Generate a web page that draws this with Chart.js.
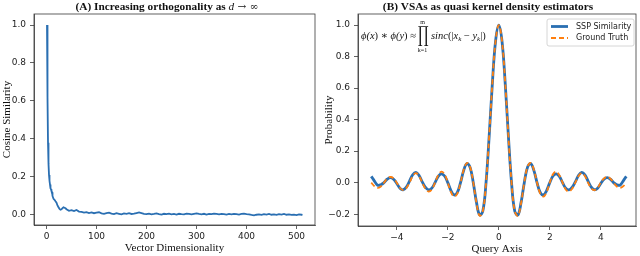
<!DOCTYPE html>
<html>
<head>
<meta charset="utf-8">
<script src="https://cdn.jsdelivr.net/npm/chart.js@4.4.0/dist/chart.umd.min.js"></script>
<style>
body { margin: 0; background: #fff; width: 640px; height: 256px; overflow: hidden; position: relative; }
canvas { position: absolute; top: 0; }
#left { left: 0; }
#right { left: 320px; }
</style>
</head>
<body>
<canvas id="left" width="320" height="256"></canvas>
<canvas id="right" width="320" height="256"></canvas>
<script>
// (A) cosine similarity vs vector dimension
const dims = [1,2,3,4,5,6,7,8,9,10,11,12,
  14,16,18,20,22,24,26,28,30,32,34,36,38,40,
  45,50,55,60,65,70,75,80,85,90,
  95,100,105,110,115,120,125,130,135,140,
  145,150,155,160,165,170,175,180,185,190,
  195,200,205,210,215,220,225,230,235,240,
  245,250,255,260,265,270,275,280,285,290,
  295,300,305,310,315,320,325,330,335,340,
  345,350,355,360,365,370,375,380,385,390,
  395,400,405,410,415,420,425,430,435,440,
  445,450,455,460,465,470,475,480,485,490,
  495,500,505,510,512];
const cosSim = [1.0,0.62,0.38,0.27,0.21,0.18,0.16,0.14,0.135,0.125,0.12,0.10,
  0.085,0.08,0.072,0.065,0.05,0.04,0.032,0.028,0.03,0.036,0.04,0.038,0.035,0.03,
  0.022,0.025,0.02,0.026,0.018,0.016,0.012,0.015,0.01,0.013,
  0.009,0.012,0.014,0.008,0.006,0.01,0.012,0.007,0.004,0.009,
  0.006,0.003,0.008,0.006,0.009,0.005,0.007,0.01,0.013,0.009,
  0.005,0.004,0.007,0.003,0.005,0.008,0.004,0.002,0.006,0.004,
  0.007,0.003,0.005,0.002,0.006,0.004,0.003,0.007,0.005,0.003,
  0.006,0.008,0.005,0.003,0.006,0.002,0.005,0.004,0.007,0.005,
  0.003,0.006,0.004,0.002,0.005,0.003,0.006,0.004,0.002,0.005,
  0.007,0.004,0.003,0.0,-0.002,0.001,0.003,0.0,0.004,0.002,
  0.005,0.001,0.003,0.0,0.004,0.002,0.005,0.001,0.003,0.0,
  0.002,-0.001,0.003,0.001,0.0];

// (B) query axis, SSP similarity and ground truth
const queryX = [-5,-4.875,-4.75,-4.625,-4.5,-4.375,-4.25,-4.125,-4,-3.875,-3.75,-3.625,-3.5,-3.375,-3.25,-3.125,
  -3,-2.875,-2.75,-2.625,-2.5,-2.375,-2.25,-2.125,-2,-1.875,-1.75,-1.625,-1.5,-1.375,-1.25,-1.125,
  -1,-0.875,-0.75,-0.625,-0.5,-0.375,-0.25,-0.125,0,
  0.125,0.25,0.375,0.5,0.625,0.75,0.875,1,1.125,1.25,1.375,1.5,1.625,1.75,1.875,2,
  2.125,2.25,2.375,2.5,2.625,2.75,2.875,3,3.125,3.25,3.375,3.5,3.625,3.75,3.875,4,
  4.125,4.25,4.375,4.5,4.625,4.75,4.875,5];
const sspSim = [0.04,0.01,-0.016,-0.013,0.0,0.022,0.032,0.022,-0.005,-0.035,-0.045,-0.028,0.01,0.05,0.065,0.045,
  0.005,-0.03,-0.046,-0.035,0.0,0.04,0.056,0.042,0.0,-0.05,-0.078,-0.062,0.0,0.078,0.122,0.097,
  0.0,-0.125,-0.205,-0.18,0.0,0.30,0.635,0.90,1.0,
  0.90,0.635,0.30,0.0,-0.18,-0.205,-0.125,0.0,0.097,0.122,0.078,0.0,-0.062,-0.078,-0.05,0.0,
  0.042,0.056,0.04,0.0,-0.035,-0.046,-0.03,0.005,0.045,0.065,0.05,0.01,-0.028,-0.045,-0.035,-0.005,
  0.022,0.032,0.022,0.0,-0.013,-0.016,0.01,0.04];
const groundTruth = [0,-0.023,-0.033,-0.024,0,0.026,0.036,0.027,0,-0.033,-0.048,-0.035,0,0.042,0.06,0.042,
  0,-0.039,-0.056,-0.043,0,0.047,0.07,0.053,0,-0.06,-0.088,-0.069,0,0.082,0.125,0.1,
  0,-0.129,-0.21,-0.18,0,0.3,0.637,0.9,1,
  0.9,0.637,0.3,0,-0.18,-0.21,-0.129,0,0.1,0.125,0.082,0,-0.069,-0.088,-0.06,0,
  0.053,0.07,0.047,0,-0.043,-0.056,-0.039,0,0.042,0.06,0.042,0,-0.035,-0.048,-0.033,0,
  0.027,0.036,0.026,0,-0.024,-0.033,-0.023,0];

const BLUE = '#2a6fb2';
const ORANGE = '#ff7f0e';
const SPINE = '#3a3a3a';
const SERIF = '"Liberation Serif", "DejaVu Serif", serif';
const SANS = '"DejaVu Sans", sans-serif';

const fmtTick = v => (v < 0 ? '\u2212' : '') + Math.abs(v);
const fmtTick1 = v => (v < -1e-9 ? '\u2212' : '') + Math.abs(v).toFixed(1);

// matplotlib style box around the axes
const framePlugin = {
    id: 'frame',
    afterDatasetsDraw(chart) {
        const a = chart.chartArea, ctx = chart.ctx;
        ctx.save();
        ctx.strokeStyle = SPINE;
        ctx.lineWidth = 0.8;
        ctx.strokeRect(a.left, a.top, a.right - a.left, a.bottom - a.top);
        ctx.restore();
    }
};

// draws text parts one after another, used for the titles and the formula
function drawParts(ctx, parts, x, y) {
    let cx = x;
    parts.forEach(p => {
        ctx.font = p.f;
        ctx.fillText(p.t, cx, y + (p.dy || 0));
        cx += ctx.measureText(p.t).width;
    });
}
function partsWidth(ctx, parts) {
    let w = 0;
    parts.forEach(p => { ctx.font = p.f; w += ctx.measureText(p.t).width; });
    return w;
}

function titlePlugin(parts, cx) {
    return {
        id: 'mtitle',
        afterDraw(chart) {
            const ctx = chart.ctx;
            ctx.save();
            ctx.fillStyle = '#111';
            ctx.textBaseline = 'alphabetic';
            const w = partsWidth(ctx, parts);
            drawParts(ctx, parts, cx - w / 2, 10);
            ctx.restore();
        }
    };
}

function axisOpts(o) {
    return {
        type: 'linear',
        min: o.min, max: o.max,
        afterFit: o.fit,
        grid: { drawOnChartArea: false, tickLength: 4, color: SPINE, lineWidth: 0.8 },
        border: { color: SPINE, width: 0.8 },
        ticks: {
            stepSize: o.step, includeBounds: false, maxRotation: 0, autoSkip: false,
            color: '#222', padding: o.pad, font: { family: SANS, size: 9 },
            callback: o.cb
        },
        title: {
            display: true, text: o.title, color: '#111',
            font: { family: SERIF, size: 11 }, padding: o.tpad
        }
    };
}

new Chart(document.getElementById('left'), {
    type: 'line',
    data: {
        datasets: [{
            label: 'Cosine Similarity',
            data: dims.map((d, i) => ({ x: d, y: cosSim[i] })),
            borderColor: BLUE, borderWidth: 1.8, pointRadius: 0, tension: 0
        }]
    },
    options: {
        responsive: false, animation: false, devicePixelRatio: 1,
        layout: { padding: { top: 14, right: 5, left: 0, bottom: 0 } },
        plugins: { legend: { display: false }, tooltip: { enabled: false } },
        scales: {
            x: axisOpts({ min: -25, max: 537, step: 100, pad: 2, cb: fmtTick,
                title: 'Vector Dimensionality', tpad: { top: 0, bottom: 1 },
                fit: s => { s.height = 31; } }),
            y: axisOpts({ min: -0.053, max: 1.058, step: 0.2, pad: 4, cb: fmtTick1,
                title: 'Cosine Similarity', tpad: { top: 1, bottom: 0 },
                fit: s => { s.width = 34; } })
        }
    },
    plugins: [framePlugin, titlePlugin([
        { t: '(A) Increasing orthogonality as ', f: 'bold 11.3px ' + SERIF },
        { t: 'd', f: 'italic 11.3px ' + SERIF },
        { t: ' \u2192 \u221E', f: '10.5px "DejaVu Serif", serif' }
    ], 167)]
});

// legend in the upper right corner of the axes
const boxLegend = {
    id: 'boxLegend',
    afterDraw(chart) {
        const ctx = chart.ctx;
        const a = chart.chartArea;
        const x0 = a.right - 89, y0 = a.top + 5;
        ctx.save();
        ctx.fillStyle = 'rgba(255,255,255,0.85)';
        ctx.strokeStyle = '#cccccc';
        ctx.lineWidth = 0.8;
        ctx.beginPath();
        ctx.roundRect(x0, y0, 87, 27, 2);
        ctx.fill();
        ctx.stroke();
        chart.data.datasets.forEach((ds, i) => {
            const y = y0 + 7.5 + i * 11.5;
            ctx.strokeStyle = ds.borderColor;
            ctx.lineWidth = ds.borderWidth;
            ctx.setLineDash(ds.borderDash || []);
            ctx.beginPath();
            ctx.moveTo(x0 + 4, y);
            ctx.lineTo(x0 + 21, y);
            ctx.stroke();
            ctx.setLineDash([]);
            ctx.fillStyle = '#222';
            ctx.font = '8px ' + SANS;
            ctx.textBaseline = 'middle';
            ctx.fillText(ds.label, x0 + 29, y);
        });
        ctx.restore();
    }
};

// kernel formula in the upper left corner
const formula = {
    id: 'formula',
    afterDraw(chart) {
        const ctx = chart.ctx;
        const a = chart.chartArea;
        const it = 'italic 10.5px ' + SERIF, rm = '10.5px ' + SERIF, sub = 'italic 7px ' + SERIF;
        ctx.save();
        ctx.fillStyle = '#111';
        ctx.textBaseline = 'alphabetic';
        const x = a.left + 3, base = 39;
        drawParts(ctx, [
            { t: '\u03D5(', f: it }, { t: 'x', f: it }, { t: ')', f: rm },
            { t: ' \u2217 ', f: rm },
            { t: '\u03D5(', f: it }, { t: 'y', f: it }, { t: ')', f: rm },
            { t: ' \u2248 ', f: rm }
        ], x, base);
        // big product sign
        const px = x + 57;
        ctx.save();
        ctx.translate(px, 42);
        ctx.scale(0.6, 1);
        ctx.font = '22px "DejaVu Serif", serif';
        ctx.fillText('\u220F', 0, 0);
        ctx.restore();
        ctx.textAlign = 'center';
        ctx.font = '6px ' + SERIF;
        ctx.fillText('m', px + 4.5, 24);
        ctx.fillText('k=1', px + 4.5, 52);
        ctx.textAlign = 'left';
        drawParts(ctx, [
            { t: 'sinc', f: it }, { t: '(|', f: rm }, { t: 'x', f: it },
            { t: 'k', f: sub, dy: 2 }, { t: ' \u2212 ', f: rm }, { t: 'y', f: it },
            { t: 'k', f: sub, dy: 2 }, { t: '|)', f: rm }
        ], px + 13, base);
        ctx.restore();
    }
};

new Chart(document.getElementById('right'), {
    type: 'line',
    data: {
        datasets: [{
            label: 'SSP Similarity',
            data: queryX.map((q, i) => ({ x: q, y: sspSim[i] })),
            borderColor: BLUE, borderWidth: 2.8, pointRadius: 0, tension: 0.4, order: 2
        }, {
            label: 'Ground Truth',
            data: queryX.map((q, i) => ({ x: q, y: groundTruth[i] })),
            borderColor: ORANGE, borderWidth: 1.8, borderDash: [5, 3], pointRadius: 0, tension: 0.4, order: 1
        }]
    },
    options: {
        responsive: false, animation: false, devicePixelRatio: 1,
        layout: { padding: { top: 14, right: 4, left: 0, bottom: 0 } },
        plugins: { legend: { display: false }, tooltip: { enabled: false } },
        scales: {
            x: axisOpts({ min: -5.52, max: 5.38, step: 2, pad: 2, cb: fmtTick,
                title: 'Query Axis', tpad: { top: 0, bottom: 0 },
                fit: s => { s.height = 30; } }),
            y: axisOpts({ min: -0.275, max: 1.07, step: 0.2, pad: 4, cb: fmtTick1,
                title: 'Probability', tpad: { top: 3, bottom: 0 },
                fit: s => { s.width = 38; } })
        }
    },
    plugins: [framePlugin, boxLegend, formula, titlePlugin([
        { t: '(B) VSAs as quasi kernel density estimators', f: 'bold 11.3px ' + SERIF }
    ], 168)]
});
</script>
</body>
</html>
